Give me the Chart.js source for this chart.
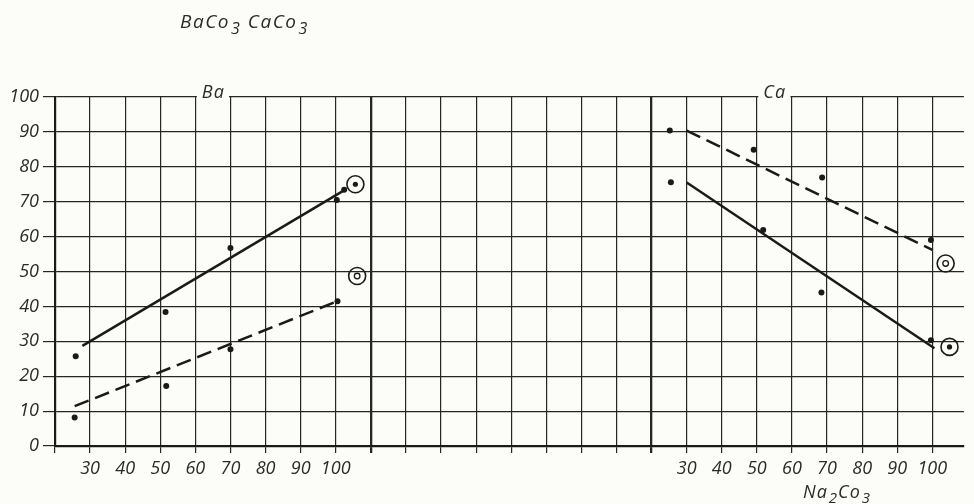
<!DOCTYPE html>
<html>
<head>
<meta charset="utf-8">
<script src="https://cdn.jsdelivr.net/npm/chart.js@4.4.1/dist/chart.umd.min.js"></script>
<style>
  html, body { margin: 0; padding: 0; background: #fcfcf9; }
  #wrap { width: 974px; height: 504px; position: relative; }
</style>
</head>
<body>
<div id="wrap"><canvas id="c" width="974" height="504"></canvas></div>
<script>
// Na2CO3 tick labels, repeated under each panel
const naTicks = [30, 40, 50, 60, 70, 80, 90, 100];
// percentage axis
const yTicks = [0, 10, 20, 30, 40, 50, 60, 70, 80, 90, 100];

// Ba panel — measured points [Na2CO3, %]
const baSolidPoints  = [[25.9, 25.7], [51.5, 38.4], [70, 56.7], [100.3, 70.5], [102.4, 73.4]];
const baSolidLine    = [[27.8, 28.7], [102.6, 73.4]];
const baSolidRef     = [[105.6, 75.0]];
const baDashedPoints = [[25.6, 8.2], [51.7, 17.2], [70, 27.7], [100.5, 41.5]];
const baDashedLine   = [[25.6, 11.4], [100.5, 41.5]];
const baDashedRef    = [[106.1, 48.7]];

// Ca panel — measured points [Na2CO3, %]
const caDashedPoints = [[25.2, 90.4], [49.1, 84.9], [68.6, 76.9], [99.6, 59.0]];
const caDashedLine   = [[30, 90.4], [100, 56.2]];
const caDashedRef    = [[103.8, 52.3]];
const caSolidPoints  = [[25.5, 75.6], [51.8, 61.9], [68.4, 44.0], [99.6, 30.3]];
const caSolidLine    = [[30, 75.5], [100.6, 28.0]];
const caSolidRef     = [[104.9, 28.4]];

// Both panels share one grid: each column is 10 units of Na2CO3,
// the Ca panel starts 17 columns to the right of the Ba panel.
const CA_OFFSET = 17;
const toGrid = (offset, pts) => pts.map(([v, y]) => ({ x: offset + (v - 20) / 10, y }));
const ba = pts => toGrid(0, pts);
const ca = pts => toGrid(CA_OFFSET, pts);

const INK = '#1a1a1a';
const GRID = '#262626';
const TEXT = '#2a2a2a';
const BG = '#fcfcf9';
const FONT = 'Open Sans';

function lineSet(data, dashed) {
  return { data, showLine: true, pointRadius: 0, borderColor: INK, borderWidth: 2.5,
           borderDash: dashed ? [15, 7] : [], fill: false };
}
function dotSet(data) {
  return { data, showLine: false, pointRadius: 3, pointBackgroundColor: INK,
           pointBorderWidth: 0, pointHoverRadius: 3 };
}
function ringSet(data, r, w, filled) {
  return { data, showLine: false, pointRadius: r, pointHoverRadius: r,
           pointBackgroundColor: filled ? INK : 'rgba(0,0,0,0)',
           pointBorderColor: INK, pointBorderWidth: w };
}

const datasets = [
  lineSet(ba(baSolidLine), false), dotSet(ba(baSolidPoints)),
  ringSet(ba(baSolidRef), 8.5, 1.6, false), ringSet(ba(baSolidRef), 2.6, 0, true),
  lineSet(ba(baDashedLine), true), dotSet(ba(baDashedPoints)),
  ringSet(ba(baDashedRef), 8.5, 1.6, false), ringSet(ba(baDashedRef), 2.8, 1.3, false),
  lineSet(ca(caDashedLine), true), dotSet(ca(caDashedPoints)),
  ringSet(ca(caDashedRef), 8.5, 1.6, false), ringSet(ca(caDashedRef), 2.8, 1.3, false),
  lineSet(ca(caSolidLine), false), dotSet(ca(caSolidPoints)),
  ringSet(ca(caSolidRef), 8.5, 1.6, false), ringSet(ca(caSolidRef), 2.6, 0, true)
];

// columns drawn heavier: panel boundaries
const heavyCols = [9, CA_OFFSET];

function tickLabel(i) {
  if (i >= 1 && i <= naTicks.length) return String(naTicks[i - 1]);
  const j = i - CA_OFFSET;
  if (j >= 1 && j <= naTicks.length) return String(naTicks[j - 1]);
  return '';
}

// text with subscripts: parts are strings or {sub: '3'}
function drawChem(ctx, parts, x, y, size, spacing) {
  ctx.save();
  ctx.fillStyle = TEXT;
  ctx.textBaseline = 'alphabetic';
  ctx.textAlign = 'left';
  ctx.letterSpacing = spacing + 'px';
  for (const p of parts) {
    if (typeof p === 'string') {
      ctx.font = `italic ${size}px "${FONT}"`;
      ctx.fillText(p, x, y);
      x += ctx.measureText(p).width;
    } else {
      ctx.font = `italic ${Math.round(size * 0.85)}px "${FONT}"`;
      ctx.fillText(p.sub, x + 1, y + size * 0.3);
      x += ctx.measureText(p.sub).width + 1;
    }
  }
  ctx.restore();
}

const panelTitles = [
  { text: 'Ba', from: 4, to: 5 },
  { text: 'Ca', from: CA_OFFSET + 3, to: CA_OFFSET + 4 }
];

const decor = {
  id: 'decor',
  beforeDraw(chart) {
    const ctx = chart.ctx;
    ctx.save();
    ctx.fillStyle = BG;
    ctx.fillRect(0, 0, chart.width, chart.height);
    ctx.restore();
  },
  afterDraw(chart) {
    const ctx = chart.ctx;
    const xs = chart.scales.x, ys = chart.scales.y;
    const top = ys.getPixelForValue(100);
    ctx.save();
    for (const t of panelTitles) {
      const x0 = xs.getPixelForValue(t.from) + 1.5;
      const x1 = xs.getPixelForValue(t.to) - 1.5;
      ctx.fillStyle = BG;
      ctx.fillRect(x0, top - 2.5, x1 - x0, 5);
      ctx.fillStyle = TEXT;
      ctx.letterSpacing = '1px';
      ctx.font = `italic 18px "${FONT}"`;
      ctx.textBaseline = 'alphabetic';
      ctx.fillText(t.text, x0 + 5, top + 0.5);
    }
    ctx.restore();
    drawChem(ctx, ['BaCo', { sub: '3' }, ' CaCo', { sub: '3' }], 180, 28, 19, 1.5);
    drawChem(ctx, ['Na', { sub: '2' }, 'Co', { sub: '3' }], 803, 498, 18, 1);
  }
};

new Chart(document.getElementById('c'), {
  type: 'scatter',
  data: { datasets },
  plugins: [decor],
  options: {
    responsive: false,
    animation: false,
    devicePixelRatio: 1,
    layout: { padding: { top: 97, right: 0, left: 0, bottom: 0 } },
    plugins: { legend: { display: false }, tooltip: { enabled: false }, title: { display: false } },
    scales: {
      x: {
        type: 'linear',
        min: 0,
        max: 25.9,
        afterBuildTicks: s => { s.ticks = Array.from({ length: 26 }, (_, i) => ({ value: i })); },
        afterFit: s => { s.height = 58; },
        grid: {
          color: GRID,
          lineWidth: c => (c.tick && heavyCols.includes(c.tick.value)) ? 2.3 : 1.2,
          tickLength: 7,
          drawTicks: true
        },
        border: { display: true, color: INK, width: 2.2 },
        ticks: {
          autoSkip: false,
          maxRotation: 0,
          padding: 5,
          color: TEXT,
          font: { family: FONT, style: 'italic', size: 18 },
          callback: v => tickLabel(Math.round(v))
        }
      },
      y: {
        min: 0,
        max: 100,
        afterBuildTicks: s => { s.ticks = yTicks.map(v => ({ value: v })); },
        afterFit: s => { s.width = 55; },
        grid: { color: GRID, lineWidth: 1.2, tickLength: 12, drawTicks: true },
        border: { display: true, color: INK, width: 2.2 },
        ticks: {
          padding: 4,
          color: TEXT,
          font: { family: FONT, style: 'italic', size: 18 },
          callback: v => String(v)
        }
      }
    }
  }
});
</script>
</body>
</html>
